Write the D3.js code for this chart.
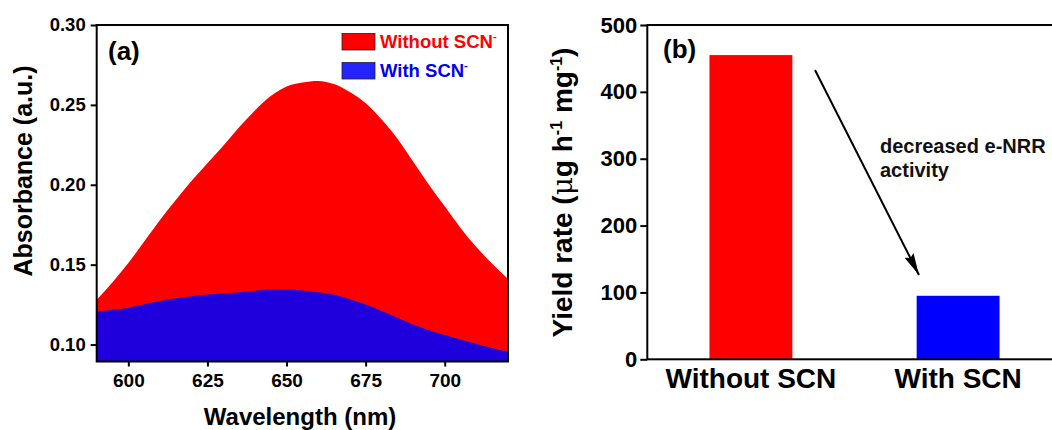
<!DOCTYPE html>
<html>
<head>
<meta charset="utf-8">
<script src="https://cdn.jsdelivr.net/npm/d3@7"></script>
<style>
  body { margin: 0; background: #fff; }
  svg { display: block; font-family: "Liberation Sans", Arial, sans-serif; font-weight: bold; }
  .axis path, .axis line { stroke: #000; stroke-width: 2; }
  .axis text { fill: #000; font-family: "Liberation Sans", Arial, sans-serif; font-weight: bold; }
</style>
</head>
<body>
<svg width="1052" height="430"></svg>
<script>
// panel (a) spectra
var wavelength = [590,595,600,605,610,615,620,625,630,635,640,645,650,655,660,665,670,675,680,685,690,695,700,705,710,715,720];
var absWithout = [0.128,0.139,0.151,0.1645,0.178,0.1905,0.2025,0.2135,0.2245,0.236,0.2465,0.2555,0.2615,0.264,0.265,0.263,0.258,0.251,0.241,0.229,0.2145,0.2,0.1865,0.173,0.161,0.1505,0.141];
var absWith = [0.1206,0.1218,0.1231,0.1252,0.1272,0.1290,0.1302,0.1313,0.1320,0.1328,0.1337,0.1344,0.1344,0.1338,0.1328,0.1312,0.1284,0.1250,0.1210,0.1168,0.1126,0.1090,0.1060,0.1032,0.1004,0.0978,0.0954];
var absTicks = [0.10,0.15,0.20,0.25,0.30];
var wlTicks = [600,625,650,675,700];

// panel (b) bars
var categories = ["Without SCN", "With SCN"];
var yieldRate = [455, 95];
var yieldTicks = [0,100,200,300,400,500];

const svg = d3.select("svg");

// ---------- panel (a) ----------
const ax = {left: 96.7, right: 508, top: 25, bottom: 361.5};
const xA = d3.scaleLinear().domain([590, 720]).range([ax.left, ax.right]);
const yA = d3.scaleLinear().domain([0.0894, 0.30]).range([ax.bottom, ax.top]);

const pa = svg.append("g");

const areaGen = vals => d3.area()
    .x((d, i) => xA(wavelength[i]))
    .y0(ax.bottom)
    .y1((d, i) => yA(vals[i]))
    .curve(d3.curveMonotoneX)(vals);

pa.append("path").attr("d", areaGen(absWithout)).attr("fill", "#ff0000");
pa.append("path").attr("d", areaGen(absWith)).attr("fill", "#1f00dc");

pa.append("rect")
    .attr("x", ax.left).attr("y", ax.top)
    .attr("width", ax.right - ax.left).attr("height", ax.bottom - ax.top)
    .attr("fill", "none").attr("stroke", "#000").attr("stroke-width", 2);

pa.append("g").attr("class", "axis")
    .attr("transform", `translate(${ax.left},0)`)
    .call(d3.axisLeft(yA).tickValues(absTicks).tickFormat(d3.format(".2f")).tickSize(6).tickPadding(5))
    .call(g => g.select(".domain").remove())
    .selectAll("text").attr("font-size", 18.5);

pa.append("g").attr("class", "axis")
    .attr("transform", `translate(0,${ax.bottom})`)
    .call(d3.axisBottom(xA).tickValues(wlTicks).tickSize(5).tickPadding(7))
    .call(g => g.select(".domain").remove())
    .selectAll("text").attr("font-size", 19);

pa.append("text").attr("x", 300).attr("y", 425)
    .attr("text-anchor", "middle").attr("font-size", 24)
    .text("Wavelength (nm)");

pa.append("text")
    .attr("transform", "translate(32,171) rotate(-90)")
    .attr("text-anchor", "middle").attr("font-size", 25)
    .text("Absorbance (a.u.)");

pa.append("text").attr("x", 108).attr("y", 60)
    .attr("font-size", 26).text("(a)");

// legend
const legendItems = [
    {label: "Without SCN", box: "#ff0000", color: "#ff0000", y: 33.5},
    {label: "With SCN", box: "#2424ff", color: "#0000ee", y: 62.5}
];
const lg = pa.selectAll(".leg").data(legendItems).enter().append("g");
lg.append("rect")
    .attr("x", 342).attr("y", d => d.y)
    .attr("width", 33).attr("height", 16.5)
    .attr("fill", d => d.box).attr("stroke", "#222").attr("stroke-width", 0.8);
const lt = lg.append("text")
    .attr("x", 380).attr("y", d => d.y + 14)
    .attr("font-size", 18.5).attr("fill", d => d.color);
lt.append("tspan").text(d => d.label);
lt.append("tspan").attr("dy", -8).attr("font-size", 11).text("-");

// ---------- panel (b) ----------
const bx = {left: 647.3, right: 1061.7, top: 25, bottom: 359.3};
const xB = d3.scaleBand().domain(categories).range([bx.left, bx.right])
    .paddingInner(0.6).paddingOuter(0.3);
const yB = d3.scaleLinear().domain([0, 500]).range([bx.bottom, bx.top]);
const barColors = ["#ff0000", "#0000ff"];

const pb = svg.append("g");

pb.selectAll("rect.bar")
    .data(yieldRate)
    .enter().append("rect")
    .attr("class", "bar")
    .attr("x", (d, i) => xB(categories[i]))
    .attr("y", d => yB(d))
    .attr("width", xB.bandwidth())
    .attr("height", d => bx.bottom - yB(d))
    .attr("fill", (d, i) => barColors[i]);

pb.append("rect")
    .attr("x", bx.left).attr("y", bx.top)
    .attr("width", bx.right - bx.left).attr("height", bx.bottom - bx.top)
    .attr("fill", "none").attr("stroke", "#000").attr("stroke-width", 2);

pb.append("g").attr("class", "axis")
    .attr("transform", `translate(${bx.left},0)`)
    .call(d3.axisLeft(yB).tickValues(yieldTicks).tickSize(7).tickPadding(3))
    .call(g => g.select(".domain").remove())
    .selectAll("text").attr("font-size", 22);

pb.append("g").attr("class", "axis")
    .attr("transform", `translate(0,${bx.bottom})`)
    .call(d3.axisBottom(xB).tickSize(0).tickPadding(9))
    .call(g => g.select(".domain").remove())
    .selectAll("text").attr("font-size", 28);

const yt = pb.append("text")
    .attr("transform", "translate(572,192.5) rotate(-90)")
    .attr("text-anchor", "middle").attr("font-size", 28);
yt.append("tspan").text("Yield rate (");
yt.append("tspan").attr("font-weight", "normal").attr("font-family", "DejaVu Serif").text("\u03bc");
yt.append("tspan").text("g h");
yt.append("tspan").attr("dy", -10).attr("font-size", 16).text("-1");
yt.append("tspan").attr("dy", 10).text(" mg");
yt.append("tspan").attr("dy", -10).attr("font-size", 16).text("-1");
yt.append("tspan").attr("dy", 10).text(")");

pb.append("text").attr("x", 663).attr("y", 58)
    .attr("font-size", 26).text("(b)");

// arrow
svg.append("defs").append("marker")
    .attr("id", "head")
    .attr("markerUnits", "userSpaceOnUse")
    .attr("viewBox", "0 0 22 10")
    .attr("refX", 22).attr("refY", 5)
    .attr("markerWidth", 22).attr("markerHeight", 10)
    .attr("orient", "auto")
    .append("path").attr("d", "M0,0 L22,5 L0,10 L3,5 Z").attr("fill", "#000");

pb.append("line")
    .attr("x1", 815).attr("y1", 70)
    .attr("x2", 919).attr("y2", 275)
    .attr("stroke", "#000").attr("stroke-width", 2)
    .attr("marker-end", "url(#head)");

const note = pb.append("text").attr("font-size", 20).attr("fill", "#111");
note.append("tspan").attr("x", 880).attr("y", 153).text("decreased e-NRR");
note.append("tspan").attr("x", 880).attr("y", 177).text("activity");
</script>
</body>
</html>
